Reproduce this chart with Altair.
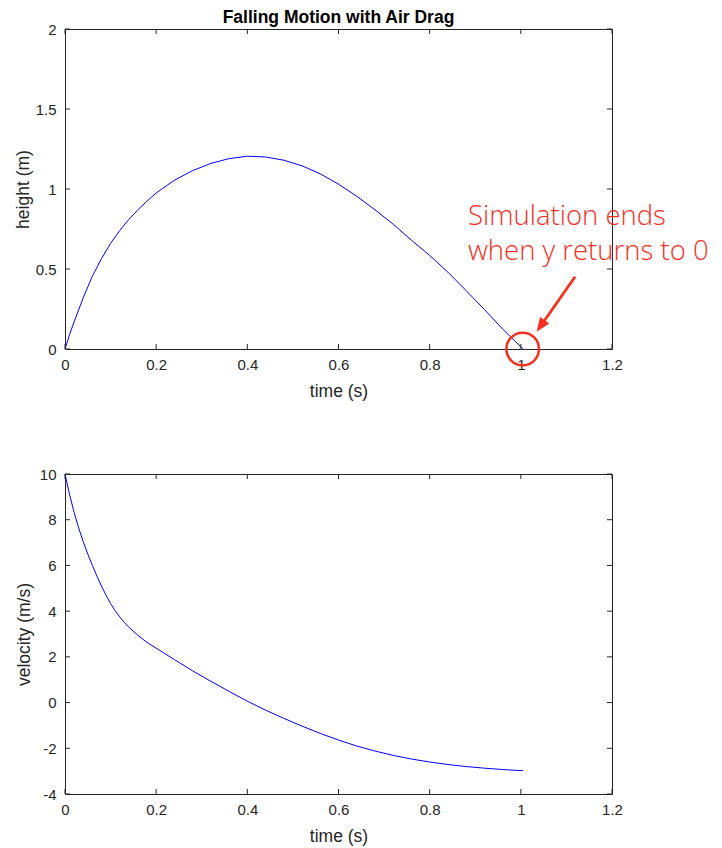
import altair as alt
import pandas as pd

# ---- data ----
t_height = [0, 0.01, 0.02, 0.04, 0.06, 0.08, 0.10, 0.12, 0.14, 0.16, 0.18, 0.20, 0.24, 0.28,
            0.32, 0.36, 0.40, 0.44, 0.48, 0.52, 0.56, 0.60, 0.64, 0.68, 0.72, 0.76, 0.80, 0.84,
            0.88, 0.92, 0.96, 1.005]
height = [0, 0.09, 0.17, 0.32, 0.455, 0.565, 0.66, 0.74, 0.81, 0.87, 0.925, 0.975, 1.055, 1.115,
          1.16, 1.19, 1.205, 1.20, 1.18, 1.145, 1.095, 1.03, 0.955, 0.87, 0.78, 0.68, 0.585, 0.48,
          0.365, 0.247, 0.125, 0]

t_vel = [0, 0.01, 0.02, 0.03, 0.04, 0.05, 0.06, 0.07, 0.08, 0.09, 0.10, 0.11, 0.12, 0.13, 0.14,
         0.16, 0.18, 0.20, 0.24, 0.28, 0.32, 0.36, 0.40, 0.44, 0.48, 0.52, 0.56, 0.60, 0.64, 0.68,
         0.72, 0.76, 0.80, 0.84, 0.88, 0.92, 0.96, 1.005]
velocity = [10, 9.1, 8.32, 7.64, 7.04, 6.50, 6.00, 5.53, 5.10, 4.70, 4.33, 4.02, 3.75, 3.51, 3.30,
            2.94, 2.63, 2.38, 1.88, 1.39, 0.93, 0.49, 0.06, -0.33, -0.69, -1.03, -1.35, -1.64,
            -1.90, -2.12, -2.31, -2.47, -2.60, -2.71, -2.80, -2.87, -2.93, -2.98]

x_ticks = [0, 0.2, 0.4, 0.6, 0.8, 1, 1.2]
h_ticks = [0, 0.5, 1, 1.5, 2]
v_ticks = [-4, -2, 0, 2, 4, 6, 8, 10]

title_text = "Falling Motion with Air Drag"
note_lines = ["Simulation ends", "when y returns to 0"]
note_t = [0.884, 0.884]
note_h = [0.7735, 0.555]
arrow_start = (1.119, 0.452)
arrow_head = (1.0435, 0.144)
circle_at = (1.004, 0.0)

# ---- style ----
W, H = 547, 320
TICK = 5
AX = "#262626"
RED = "#f5301e"
FONT = "Liberation Sans"

xscale = alt.Scale(domain=[0, 1.2], nice=False, zero=False)


def x_axis():
    return alt.Axis(values=x_ticks, labelExpr="datum.value + ''", ticks=False, tickSize=0,
                    domain=False, grid=False, labelFont=FONT, labelFontSize=15,
                    labelColor=AX, labelPadding=8, labelFlush=False, labelOverlap=False,
                    title="time (s)", titleFont=FONT, titleFontSize=17.5,
                    titleFontWeight="normal", titleColor=AX, titlePadding=10)


def y_axis(vals, title, tpad):
    return alt.Axis(values=vals, labelExpr="datum.value + ''", ticks=False, tickSize=0,
                    domain=False, grid=False, labelFont=FONT, labelFontSize=15,
                    labelColor=AX, labelPadding=9, labelFlush=False, labelOverlap=False,
                    title=title, titleFont=FONT, titleFontSize=17.5,
                    titleFontWeight="normal", titleColor=AX, titlePadding=tpad)


def inward_ticks(yvals, yscale):
    xdf = pd.DataFrame({"tx": x_ticks})
    ydf = pd.DataFrame({"ty": yvals})
    xs = alt.X("tx:Q", scale=xscale)
    ys = alt.Y("ty:Q", scale=yscale)
    b = alt.Chart(xdf).mark_rule(color=AX, strokeWidth=1).encode(
        x=xs, y=alt.value(H), y2=alt.value(H - TICK))
    t = alt.Chart(xdf).mark_rule(color=AX, strokeWidth=1).encode(
        x=xs, y=alt.value(0), y2=alt.value(TICK))
    l = alt.Chart(ydf).mark_rule(color=AX, strokeWidth=1).encode(
        y=ys, x=alt.value(0), x2=alt.value(TICK))
    r = alt.Chart(ydf).mark_rule(color=AX, strokeWidth=1).encode(
        y=ys, x=alt.value(W), x2=alt.value(W - TICK))
    return [b, t, l, r]


# ---- top panel ----
hscale = alt.Scale(domain=[0, 2], nice=False, zero=False)
hdf = pd.DataFrame({"t": t_height, "h": height})
h_line = alt.Chart(hdf).mark_line(color="#0000ff", strokeWidth=1).encode(
    x=alt.X("t:Q", scale=xscale, axis=x_axis()),
    y=alt.Y("h:Q", scale=hscale, axis=y_axis(h_ticks, "height (m)", 3)),
)

note_df = pd.DataFrame({"t": note_t, "h": note_h, "label": note_lines})
note = alt.Chart(note_df).mark_text(
    align="left", baseline="alphabetic", font="Open Sans", fontWeight=300,
    fontSize=27.5, color=RED).encode(
    x=alt.X("t:Q", scale=xscale),
    y=alt.Y("h:Q", scale=hscale),
    text="label:N")

arrow_df = pd.DataFrame({"t": [arrow_start[0]], "h": [arrow_start[1]],
                         "t2": [arrow_head[0]], "h2": [arrow_head[1]]})
shaft = alt.Chart(arrow_df).mark_rule(color=RED, strokeWidth=2.8).encode(
    x=alt.X("t:Q", scale=xscale), y=alt.Y("h:Q", scale=hscale),
    x2="t2:Q", y2="h2:Q")
head = alt.Chart(arrow_df).mark_point(
    shape="M0,-1L0.8,1L-0.8,1Z", angle=214.8, size=196, filled=True,
    color=RED, opacity=1, strokeWidth=0).encode(
    x=alt.X("t2:Q", scale=xscale), y=alt.Y("h2:Q", scale=hscale))

circ_df = pd.DataFrame({"t": [circle_at[0]], "h": [circle_at[1]]})
circ = alt.Chart(circ_df).mark_point(
    shape="circle", size=1060, filled=False, color=RED, opacity=1, strokeWidth=2.5).encode(
    x=alt.X("t:Q", scale=xscale), y=alt.Y("h:Q", scale=hscale))

top = alt.layer(h_line, *inward_ticks(h_ticks, hscale), note, shaft, head, circ).properties(
    width=W, height=H,
    title=alt.Title(title_text, font=FONT, fontSize=17.5, fontWeight="bold",
                    color="#000000", offset=-4, anchor="middle"))

# ---- bottom panel ----
vscale = alt.Scale(domain=[-4, 10], nice=False, zero=False)
vdf = pd.DataFrame({"t": t_vel, "v": velocity})
v_line = alt.Chart(vdf).mark_line(color="#0000ff", strokeWidth=1).encode(
    x=alt.X("t:Q", scale=xscale, axis=x_axis()),
    y=alt.Y("v:Q", scale=vscale, axis=y_axis(v_ticks, "velocity (m/s)", 6)),
)
bottom = alt.layer(v_line, *inward_ticks(v_ticks, vscale)).properties(width=W, height=H)

chart = alt.vconcat(top, bottom, spacing=125, bounds="flush").properties(
    padding={"left": 13, "top": 8, "right": 4, "bottom": 2}
).configure_view(stroke=AX, strokeWidth=1)

chart.save("out.html", embed_options={"renderer": "svg", "actions": False})
